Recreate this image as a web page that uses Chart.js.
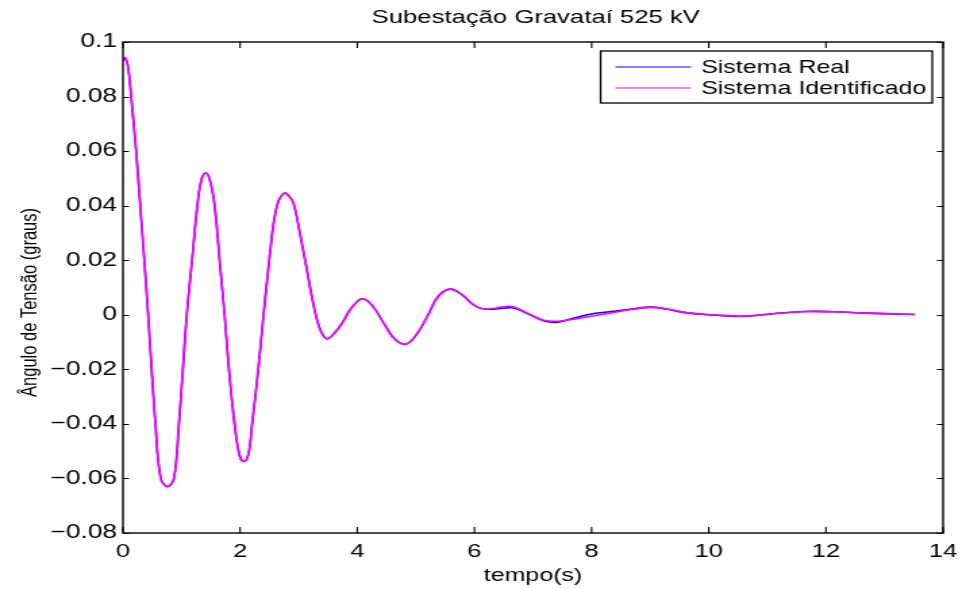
<!DOCTYPE html>
<html>
<head>
<meta charset="utf-8">
<script src="https://cdn.jsdelivr.net/npm/chart.js@4.4.1/dist/chart.umd.min.js"></script>
<style>
  html, body { margin: 0; padding: 0; background: #ffffff; overflow: hidden; }
  /* the figure is laid out at 712 px and widened to 962 px, giving the wide lettering of the original export */
  #wrap { width: 712px; height: 589px; transform: scaleX(1.35112); transform-origin: 0 0; }
</style>
</head>
<body>
<div id="wrap"><canvas id="c" width="712" height="589"></canvas></div>
<script>
// Tempo (s) e ângulo de tensão (graus) na subestação Gravataí 525 kV
const tempo = [
  0.00, 0.04, 0.09, 0.14, 0.225, 0.295, 0.365, 0.43, 0.49, 0.555, 0.645, 0.76, 0.87, 0.955,
  1.01, 1.09, 1.18, 1.27, 1.34, 1.41, 1.48, 1.565, 1.65, 1.735, 1.81, 1.905, 1.99, 2.065, 2.14,
  2.20, 2.31, 2.40, 2.45, 2.51, 2.58, 2.65, 2.71, 2.766, 2.83, 2.91, 3.02, 3.14, 3.25, 3.36, 3.48,
  3.62, 3.76, 3.90, 4.09, 4.27, 4.47, 4.64, 4.83, 5.01, 5.21, 5.38, 5.58, 5.78, 5.95, 6.10, 6.27,
  6.49, 6.61, 6.72, 6.95, 7.18, 7.40, 7.63, 7.97, 8.31, 8.66, 9.00, 9.28, 9.62, 10.08, 10.59, 11.10,
  11.67, 12.13, 12.70, 13.52
];
const sistemaReal = [
  0.0930, 0.0942, 0.0905, 0.0800, 0.0600, 0.0400, 0.0200, 0.0000, -0.0200, -0.0400, -0.0600, -0.0630, -0.0600, -0.0400,
  -0.0240, 0.0000, 0.0200, 0.0400, 0.0495, 0.0520, 0.0497, 0.0400, 0.0200, 0.0000, -0.0200, -0.0400, -0.0515, -0.0538, -0.0513,
  -0.0410, -0.0200, 0.0000, 0.0104, 0.0226, 0.0348, 0.0415, 0.0438, 0.0446, 0.0436, 0.0410, 0.0300, 0.0165, 0.0040, -0.0050, -0.0088,
  -0.0065, -0.0024, 0.0025, 0.0059, 0.0030, -0.0037, -0.0089, -0.0108, -0.0073, 0.0000, 0.0067, 0.0094, 0.0075, 0.0042, 0.0024, 0.0020,
  0.0024, 0.0026, 0.0022, 0.0000, -0.0022, -0.0028, -0.0016, 0.0002, 0.0011, 0.0020, 0.0028, 0.0021, 0.0007, -0.0001, -0.0006, 0.0004,
  0.0012, 0.0011, 0.0006, 0.0001
];
const sistemaIdentificado = [
  0.0930, 0.0942, 0.0905, 0.0800, 0.0600, 0.0400, 0.0200, 0.0000, -0.0200, -0.0400, -0.0600, -0.0630, -0.0600, -0.0400,
  -0.0240, 0.0000, 0.0200, 0.0400, 0.0495, 0.0520, 0.0497, 0.0400, 0.0200, 0.0000, -0.0200, -0.0400, -0.0515, -0.0538, -0.0513,
  -0.0410, -0.0200, 0.0000, 0.0104, 0.0226, 0.0348, 0.0415, 0.0438, 0.0446, 0.0436, 0.0410, 0.0300, 0.0165, 0.0040, -0.0050, -0.0088,
  -0.0065, -0.0024, 0.0025, 0.0059, 0.0030, -0.0037, -0.0089, -0.0108, -0.0073, 0.0000, 0.0067, 0.0094, 0.0075, 0.0042, 0.0024, 0.0022,
  0.0029, 0.0031, 0.0025, 0.0001, -0.0020, -0.0024, -0.0018, -0.0006, 0.0006, 0.0019, 0.0027, 0.0021, 0.0008, 0.0000, -0.0005, 0.0004,
  0.0012, 0.0011, 0.0006, 0.0001
];
const xTicks = [0, 2, 4, 6, 8, 10, 12, 14];
const xTickLabels = ['0', '2', '4', '6', '8', '10', '12', '14'];
const yTicks = [-0.08, -0.06, -0.04, -0.02, 0, 0.02, 0.04, 0.06, 0.08, 0.1];
const yTickLabels = ['\u22120.08', '\u22120.06', '\u22120.04', '\u22120.02', '0', '0.02', '0.04', '0.06', '0.08', '0.1'];
const seriesNames = ['Sistema Real', 'Sistema Identificado'];
const seriesColors = ['#0000ff', '#ff00ff'];
const chartTitle = 'Subestação Gravataí 525 kV';
const yAxisTitle = 'Ângulo de Tensão (graus)';

const FONT = "'Liberation Sans', Arial, Helvetica, sans-serif";

const toPoints = (vals) => tempo.map((t, i) => ({ x: t, y: vals[i] }));

// Axes box with inward ticks on all four sides, title centred over the axes,
// y-axis label and the legend in the upper right corner
const frameAndLegend = {
  id: 'frameAndLegend',
  afterDraw(chart) {
    const { ctx, chartArea: a, scales } = chart;
    const tlx = 6, tly = 4.5;
    ctx.save();
    ctx.strokeStyle = '#000000';
    ctx.lineWidth = 1.1;
    ctx.beginPath();
    scales.x.ticks.forEach(tk => {
      const px = scales.x.getPixelForValue(tk.value);
      ctx.moveTo(px, a.bottom); ctx.lineTo(px, a.bottom - tlx);
      ctx.moveTo(px, a.top); ctx.lineTo(px, a.top + tlx);
    });
    scales.y.ticks.forEach(tk => {
      const py = Math.round(scales.y.getPixelForValue(tk.value)) + 0.5;
      ctx.moveTo(a.left, py); ctx.lineTo(a.left + tly, py);
      ctx.moveTo(a.right, py); ctx.lineTo(a.right - tly, py);
    });
    ctx.stroke();
    ctx.lineWidth = 1.4;
    ctx.strokeRect(a.left, a.top, a.right - a.left, a.bottom - a.top);

    // title
    ctx.fillStyle = '#000000';
    ctx.textAlign = 'center';
    ctx.textBaseline = 'middle';
    ctx.font = '19px ' + FONT;
    ctx.fillText(chartTitle, (a.left + a.right) / 2 + 2, 18);

    // y-axis label
    ctx.save();
    ctx.translate(22.2, (a.top + a.bottom) / 2 + 15);
    ctx.rotate(-Math.PI / 2);
    ctx.font = '16.5px ' + FONT;
    ctx.fillText(yAxisTitle, 0, 0);
    ctx.restore();

    // legend
    ctx.font = '18.5px ' + FONT;
    const labels = chart.data.datasets.map(d => d.label);
    const textW = Math.max(...labels.map(l => ctx.measureText(l).width));
    const lineLen = 56, gap = 7.4, padL = 11, padR = 4.5, rowH = 21;
    const boxW = padL + lineLen + gap + textW + padR;
    const boxH = 52;
    const bx = a.right - 8 - boxW;
    const by = a.top + 9;
    ctx.fillStyle = '#ffffff';
    ctx.fillRect(bx, by, boxW, boxH);
    ctx.lineWidth = 1.3;
    ctx.strokeStyle = '#000000';
    ctx.strokeRect(bx, by, boxW, boxH);
    ctx.textBaseline = 'middle';
    ctx.textAlign = 'left';
    chart.data.datasets.forEach((d, i) => {
      const cy = by + 16 + i * rowH;
      ctx.strokeStyle = d.borderColor;
      ctx.lineWidth = 1.1;
      ctx.beginPath();
      ctx.moveTo(bx + padL, cy); ctx.lineTo(bx + padL + lineLen, cy);
      ctx.stroke();
      ctx.fillStyle = '#000000';
      ctx.fillText(d.label, bx + padL + lineLen + gap, cy + 1);
    });
    ctx.restore();
  }
};

new Chart(document.getElementById('c'), {
  type: 'line',
  data: {
    datasets: [
      { label: seriesNames[0], data: toPoints(sistemaReal), borderColor: seriesColors[0], order: 1 },
      { label: seriesNames[1], data: toPoints(sistemaIdentificado), borderColor: seriesColors[1], order: 0 }
    ]
  },
  options: {
    responsive: false,
    devicePixelRatio: 1,
    animation: false,
    parsing: false,
    layout: { padding: { left: 0, right: 14, top: 42, bottom: 0 } },
    elements: {
      point: { radius: 0, hoverRadius: 0 },
      line: { borderWidth: 1.6, tension: 0.4, fill: false }
    },
    plugins: {
      legend: { display: false },
      tooltip: { enabled: false },
      title: { display: false }
    },
    scales: {
      x: {
        type: 'linear',
        min: 0, max: 14,
        afterBuildTicks: (s) => { s.ticks = xTicks.map(v => ({ value: v })); },
        afterFit: (s) => { s.height = 56; s.paddingLeft = 0; s.paddingRight = 0; },
        grid: { display: false, drawTicks: false },
        border: { display: false },
        ticks: {
          color: '#000000',
          font: { family: FONT, size: 19 },
          padding: 7.5,
          maxRotation: 0,
          callback: (v, i) => xTickLabels[i]
        },
        title: {
          display: true,
          text: 'tempo(s)',
          color: '#000000',
          font: { family: FONT, size: 18.5 },
          padding: { top: 0, bottom: 2 }
        }
      },
      y: {
        type: 'linear',
        min: -0.08, max: 0.1,
        afterBuildTicks: (s) => { s.ticks = yTicks.map(v => ({ value: v })); },
        afterFit: (s) => { s.width = 91; s.paddingTop = 0; s.paddingBottom = 0; },
        grid: { display: false, drawTicks: false },
        border: { display: false },
        ticks: {
          color: '#000000',
          font: { family: FONT, size: 19.5 },
          padding: 4.4,
          callback: (v, i) => yTickLabels[i]
        },
        title: { display: false }
      }
    }
  },
  plugins: [frameAndLegend]
});
</script>
</body>
</html>
